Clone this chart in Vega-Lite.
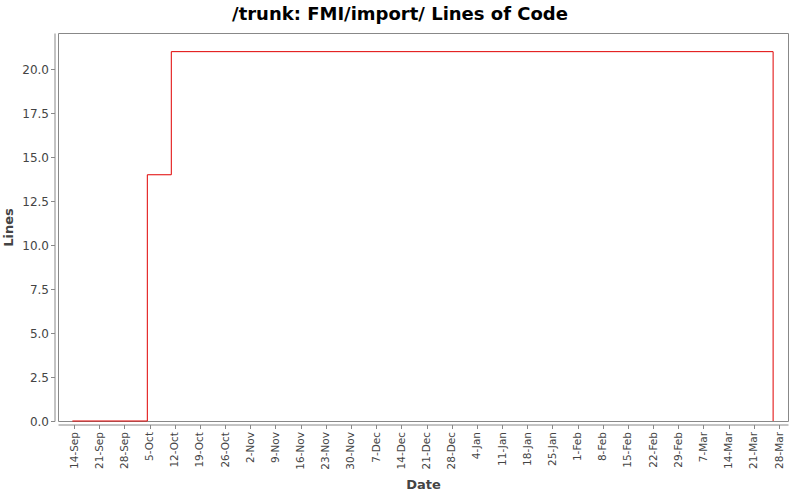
{
  "$schema": "https://vega.github.io/schema/vega-lite/v6.json",
  "width": 730,
  "height": 388,
  "autosize": "none",
  "padding": {"left": 58, "top": 33, "right": 12, "bottom": 79},
  "background": "white",
  "title": {
    "text": "/trunk: FMI/import/ Lines of Code",
    "font": "DejaVu Sans",
    "fontSize": 18,
    "fontWeight": "bold",
    "color": "black",
    "anchor": "middle",
    "frame": "group",
    "dx": -23,
    "offset": 9
  },
  "config": {"view": {"stroke": "#888888", "strokeWidth": 1}},
  "data": {
    "values": [
      {"date": "2007-09-13T13:00:00Z", "lines": 0},
      {"date": "2007-10-04T09:00:00Z", "lines": 14},
      {"date": "2007-10-11T01:00:00Z", "lines": 21},
      {"date": "2008-03-26T08:40:00Z", "lines": 0}
    ]
  },
  "mark": {"type": "line", "interpolate": "step-after", "color": "#e00000", "strokeWidth": 1},
  "encoding": {
    "x": {
      "field": "date",
      "type": "temporal",
      "scale": {
        "type": "utc",
        "domain": [
          {"year": 2007, "month": 9, "date": 9, "hours": 13, "utc": true},
          {"year": 2008, "month": 3, "date": 30, "hours": 12, "utc": true}
        ]
      },
      "axis": {
        "title": "Date",
        "values": [
          {"year": 2007, "month": 9, "date": 14, "utc": true},
          {"year": 2007, "month": 9, "date": 21, "utc": true},
          {"year": 2007, "month": 9, "date": 28, "utc": true},
          {"year": 2007, "month": 10, "date": 5, "utc": true},
          {"year": 2007, "month": 10, "date": 12, "utc": true},
          {"year": 2007, "month": 10, "date": 19, "utc": true},
          {"year": 2007, "month": 10, "date": 26, "utc": true},
          {"year": 2007, "month": 11, "date": 2, "utc": true},
          {"year": 2007, "month": 11, "date": 9, "utc": true},
          {"year": 2007, "month": 11, "date": 16, "utc": true},
          {"year": 2007, "month": 11, "date": 23, "utc": true},
          {"year": 2007, "month": 11, "date": 30, "utc": true},
          {"year": 2007, "month": 12, "date": 7, "utc": true},
          {"year": 2007, "month": 12, "date": 14, "utc": true},
          {"year": 2007, "month": 12, "date": 21, "utc": true},
          {"year": 2007, "month": 12, "date": 28, "utc": true},
          {"year": 2008, "month": 1, "date": 4, "utc": true},
          {"year": 2008, "month": 1, "date": 11, "utc": true},
          {"year": 2008, "month": 1, "date": 18, "utc": true},
          {"year": 2008, "month": 1, "date": 25, "utc": true},
          {"year": 2008, "month": 2, "date": 1, "utc": true},
          {"year": 2008, "month": 2, "date": 8, "utc": true},
          {"year": 2008, "month": 2, "date": 15, "utc": true},
          {"year": 2008, "month": 2, "date": 22, "utc": true},
          {"year": 2008, "month": 2, "date": 29, "utc": true},
          {"year": 2008, "month": 3, "date": 7, "utc": true},
          {"year": 2008, "month": 3, "date": 14, "utc": true},
          {"year": 2008, "month": 3, "date": 21, "utc": true},
          {"year": 2008, "month": 3, "date": 28, "utc": true}
        ],
        "labelExpr": "utcFormat(datum.value, '%-d-%b')",
        "labelAngle": 270,
        "labelAlign": "right",
        "labelBaseline": "middle",
        "labelOverlap": false,
        "labelBound": false,
        "labelFlush": false,
        "labelFont": "DejaVu Sans",
        "labelFontSize": 10.5,
        "labelColor": "#444444",
        "labelPadding": 3,
        "offset": 3.5,
        "tickSize": 4,
        "tickColor": "#888888",
        "domainColor": "#888888",
        "grid": false,
        "titleFont": "DejaVu Sans",
        "titleFontSize": 13,
        "titleFontWeight": "bold",
        "titleColor": "#444444",
        "titlePadding": 9
      }
    },
    "y": {
      "field": "lines",
      "type": "quantitative",
      "scale": {"domain": [0, 22.06], "nice": false, "zero": false},
      "axis": {
        "title": "Lines",
        "values": [0, 2.5, 5, 7.5, 10, 12.5, 15, 17.5, 20],
        "format": ".1f",
        "labelFont": "DejaVu Sans",
        "labelFontSize": 12,
        "labelColor": "#444444",
        "labelPadding": 2,
        "labelOverlap": false,
        "labelBound": false,
        "labelFlush": false,
        "offset": 3.5,
        "tickSize": 4,
        "tickColor": "#888888",
        "domainColor": "#888888",
        "grid": false,
        "titleFont": "DejaVu Sans",
        "titleFontSize": 13,
        "titleFontWeight": "bold",
        "titleColor": "#444444",
        "titlePadding": 6
      }
    }
  }
}
